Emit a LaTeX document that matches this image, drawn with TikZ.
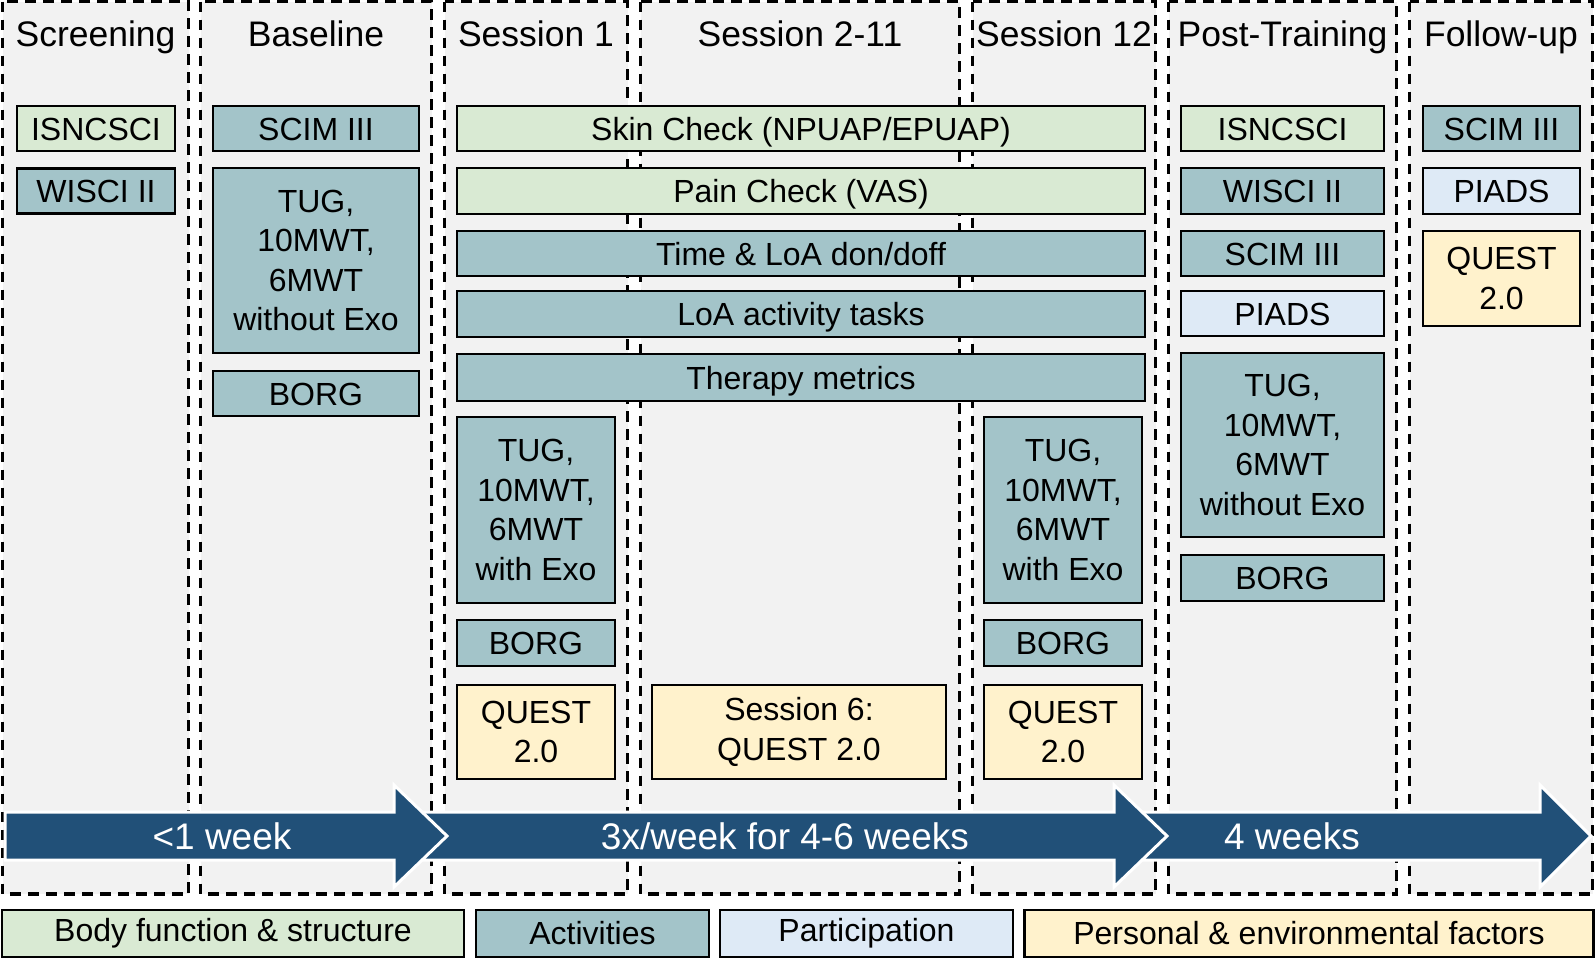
\documentclass[tikz,border=0pt]{standalone}
\usepackage{fontspec}
\setmainfont{Liberation Sans}
\definecolor{panelgray}{HTML}{F2F2F2}
\definecolor{bodyc}{HTML}{D9EAD3}
\definecolor{actc}{HTML}{A3C4C9}
\definecolor{partc}{HTML}{DEEAF6}
\definecolor{persc}{HTML}{FFF2CC}
\definecolor{arrowc}{HTML}{215078}
\begin{document}
\begin{tikzpicture}[x=1pt,y=-1pt,
  panel/.style={fill=panelgray,draw=black,line width=3.4pt,dash pattern=on 10.5pt off 7.5pt},
  hdr/.style={font=\fontsize{35.5}{40}\selectfont,inner sep=0pt,anchor=base},
  bx/.style={draw=black,line width=2.5pt,inner sep=0pt,align=center,font=\fontsize{32}{39.5}\selectfont},
  one/.style={text height=23pt,text depth=0pt},
  bodyb/.style={bx,fill=bodyc},
  actb/.style={bx,fill=actc},
  partb/.style={bx,fill=partc},
  persb/.style={bx,fill=persc},
  tarrow/.style={fill=arrowc,draw=white,line width=3pt,line join=miter},
  atext/.style={text=white,font=\fontsize{37}{40}\selectfont,inner sep=0pt}
]
\useasboundingbox (0,0) rectangle (1596,959);
% panels
\draw[panel] (2.5,1.5) rectangle (188.5,894);
\draw[panel] (200.5,1.5) rectangle (431.5,894);
\draw[panel] (444.5,1.5) rectangle (627.5,894);
\draw[panel] (640.5,1.5) rectangle (959.5,894);
\draw[panel] (972.5,1.5) rectangle (1155.5,894);
\draw[panel] (1168.5,1.5) rectangle (1396.5,894);
\draw[panel] (1409.5,1.5) rectangle (1592.5,894);
% headers
\node[hdr] (h1) at (95.5,46) {Screening};
\node[hdr] (h2) at (316,46) {Baseline};
\node[hdr] (h3) at (536,46) {Session 1};
\node[hdr] (h4) at (800,46) {Session 2-11};
\node[hdr] (h5) at (1064,46) {Session 12};
\node[hdr] (h6) at (1282.5,46) {Post-Training};
\node[hdr] (h7) at (1501,46) {Follow-up};
% Screening
\node[bodyb,one,minimum width=158pt,minimum height=45pt] (scr1) at (96,128.5) {ISNCSCI};
\node[actb,one,minimum width=158pt,minimum height=45pt] (scr2) at (96,191) {WISCI II};
% Baseline
\node[actb,one,minimum width=206pt,minimum height=45pt] (bl1) at (316,128.5) {SCIM III};
\node[actb,minimum width=206pt,minimum height=185pt] (bl2) at (316,260.5) {TUG,\\10MWT,\\6MWT\\without Exo};
\node[actb,one,minimum width=206pt,minimum height=45pt] (bl3) at (316,393.5) {BORG};
% spanning sessions
\node[bodyb,one,minimum width=688pt,minimum height=45pt] (sp1) at (801,128.5) {Skin Check (NPUAP/EPUAP)};
\node[bodyb,one,minimum width=688pt,minimum height=46pt] (sp2) at (801,191) {Pain Check (VAS)};
\node[actb,one,minimum width=688pt,minimum height=45pt] (sp3) at (801,253.5) {Time \& LoA don/doff};
\node[actb,one,minimum width=688pt,minimum height=46pt] (sp4) at (801,314) {LoA activity tasks};
\node[actb,one,minimum width=688pt,minimum height=47pt] (sp5) at (801,377.5) {Therapy metrics};
% Session 1
\node[actb,minimum width=158pt,minimum height=186pt] (s1a) at (536,510) {TUG,\\10MWT,\\6MWT\\with Exo};
\node[actb,one,minimum width=158pt,minimum height=46pt] (s1b) at (536,643) {BORG};
\node[persb,minimum width=158pt,minimum height=94pt] (s1c) at (536,732) {QUEST\\2.0};
% Session 6
\node[persb,minimum width=294pt,minimum height=94pt] (s6) at (799,732) {Session 6:\\QUEST 2.0};
% Session 12
\node[actb,minimum width=158pt,minimum height=186pt] (s12a) at (1063,510) {TUG,\\10MWT,\\6MWT\\with Exo};
\node[actb,one,minimum width=158pt,minimum height=46pt] (s12b) at (1063,643) {BORG};
\node[persb,minimum width=158pt,minimum height=94pt] (s12c) at (1063,732) {QUEST\\2.0};
% Post-Training
\node[bodyb,one,minimum width=203pt,minimum height=45pt] (pt1) at (1282.5,128.5) {ISNCSCI};
\node[actb,one,minimum width=203pt,minimum height=46pt] (pt2) at (1282.5,191) {WISCI II};
\node[actb,one,minimum width=203pt,minimum height=45pt] (pt3) at (1282.5,253.5) {SCIM III};
\node[partb,one,minimum width=203pt,minimum height=45pt] (pt4) at (1282.5,313.5) {PIADS};
\node[actb,minimum width=203pt,minimum height=184pt] (pt5) at (1282.5,445) {TUG,\\10MWT,\\6MWT\\without Exo};
\node[actb,one,minimum width=203pt,minimum height=46pt] (pt6) at (1282.5,578) {BORG};
% Follow-up
\node[actb,one,minimum width=157pt,minimum height=45pt] (fu1) at (1501.5,128.5) {SCIM III};
\node[partb,one,minimum width=157pt,minimum height=46pt] (fu2) at (1501.5,191) {PIADS};
\node[persb,minimum width=157pt,minimum height=95pt] (fu3) at (1501.5,278.5) {QUEST\\2.0};
% timeline arrows
\draw[tarrow] (1120,812) -- (1540,812) -- (1540,785) -- (1591,836) -- (1540,887) -- (1540,860) -- (1120,860) -- cycle;
\draw[tarrow] (400,812) -- (1114,812) -- (1114,785) -- (1167,836) -- (1114,887) -- (1114,860) -- (400,860) -- cycle;
\draw[tarrow] (5,812) -- (394,812) -- (394,785) -- (447,836) -- (394,887) -- (394,860) -- (5,860) -- cycle;
\node[atext] (a1) at (222,836) {<1 week};
\node[atext] (a2) at (785,836) {3x/week for 4-6 weeks};
\node[atext] (a3) at (1292,836) {4 weeks};
% legend
\node[bodyb,minimum width=462pt,minimum height=47pt] (lg1) at (233,933.5) {Body function \& structure};
\node[actb,minimum width=233pt,minimum height=47pt] (lg2) at (592.5,933.5) {Activities};
\node[partb,minimum width=293pt,minimum height=47pt] (lg3) at (866.5,933.5) {Participation};
\node[persb,minimum width=569pt,minimum height=47pt] (lg4) at (1309,933.5) {Personal \& environmental factors};
\end{tikzpicture}
\end{document}
